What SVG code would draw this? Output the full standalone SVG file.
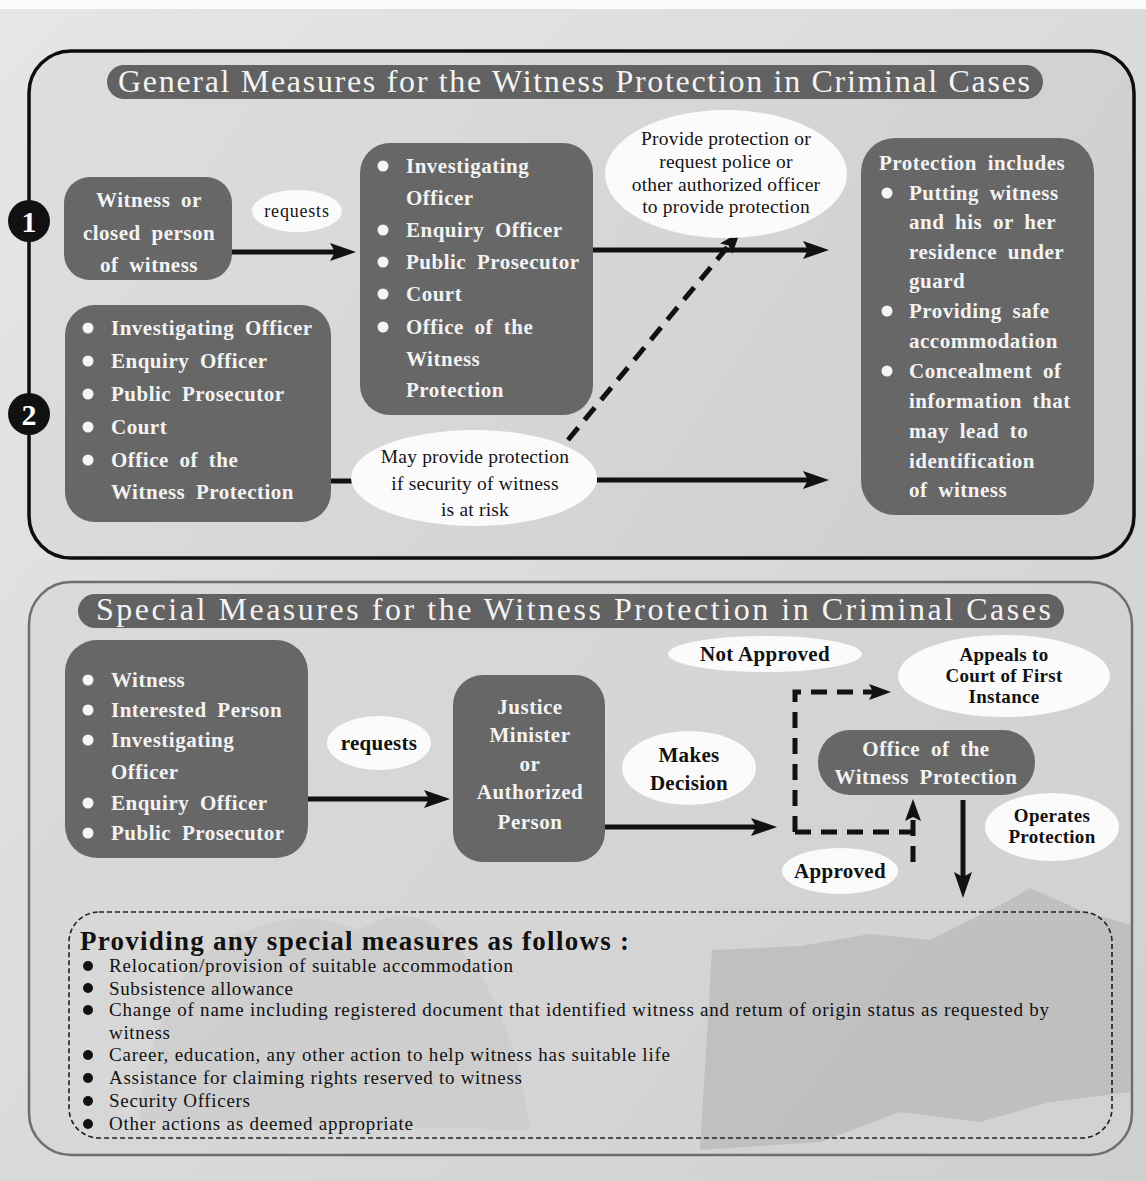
<svg xmlns="http://www.w3.org/2000/svg" width="1146" height="1181" viewBox="0 0 1146 1181">
<defs>
<linearGradient id="bg" x1="0" y1="0" x2="1" y2="1">
<stop offset="0" stop-color="#e6e6e6"/>
<stop offset="1" stop-color="#cfcfcf"/>
</linearGradient>
<linearGradient id="p1" x1="0" y1="0" x2="1" y2="0.3">
<stop offset="0" stop-color="#dedede"/>
<stop offset="0.6" stop-color="#d6d6d6"/>
<stop offset="1" stop-color="#d0d0d0"/>
</linearGradient>
<linearGradient id="p2" x1="0" y1="0" x2="1" y2="0.4">
<stop offset="0" stop-color="#dadada"/>
<stop offset="1" stop-color="#d2d2d2"/>
</linearGradient>
<marker id="ah" viewBox="0 0 26 18" refX="8" refY="9" markerWidth="26" markerHeight="18" markerUnits="userSpaceOnUse" orient="auto">
<path d="M0,0 L26,9 L0,18 L5,9 Z" fill="#111"/>
</marker>
<marker id="ahs" viewBox="0 0 22 16" refX="6" refY="8" markerWidth="22" markerHeight="16" markerUnits="userSpaceOnUse" orient="auto">
<path d="M0,0 L22,8 L0,16 L4,8 Z" fill="#111"/>
</marker>
</defs>
<style>
.node{fill:#676767}
.pill{fill:#626262}
.ell{fill:#fbfbfb}
.nt{font-family:"Liberation Serif","Times New Roman",serif;font-weight:bold;font-size:21px;fill:#f3f3f3;letter-spacing:0.5px;word-spacing:5px}
.ntc{text-anchor:middle}
.title{font-family:"Liberation Serif","Times New Roman",serif;font-size:32px;fill:#f4f4f4}
.et{font-family:"Liberation Serif","Times New Roman",serif;font-size:19.5px;fill:#151515;text-anchor:middle;letter-spacing:0.2px}
.eb{font-family:"Liberation Serif","Times New Roman",serif;font-weight:bold;font-size:21px;fill:#111;text-anchor:middle;letter-spacing:0.3px}
.ebs{font-size:19px}
.lt{font-family:"Liberation Serif","Times New Roman",serif;font-size:19px;fill:#111}
.wb{fill:#f5f5f5}
.bb{fill:#111}
.solid{stroke:#111;stroke-width:5;fill:none}
.dash{stroke:#111;stroke-width:5;fill:none;stroke-dasharray:16 10}
.num{font-family:"Liberation Serif","Times New Roman",serif;font-weight:bold;font-size:30px;fill:#fff;text-anchor:middle}
</style>

<rect x="0" y="0" width="1146" height="1181" fill="url(#bg)"/>
<rect x="0" y="0" width="1146" height="9" fill="#fbfbfb"/>

<!-- Panels -->
<g id="panel-general">
<rect x="29" y="51" width="1105" height="507" rx="42" fill="url(#p1)" stroke="#0e0e0e" stroke-width="3.5"/>
</g>
<g id="panel-special">
<rect x="29" y="582" width="1103" height="573" rx="42" fill="url(#p2)" stroke="#6e6e6e" stroke-width="2.5"/>
<path d="M700,1150 L712,950 L800,946 L870,934 L930,940 L1010,900 L1030,888 L1080,910 L1131,925 L1131,1092 L1050,1102 L980,1122 L900,1112 L820,1142 Z" fill="#a9a9a9" opacity="0.45"/>
<path d="M140,1120 C150,1000 200,940 250,930 C300,910 330,920 360,930 C400,905 430,915 460,950 C500,990 520,1060 530,1130 Z" fill="#c4c4c4" opacity="0.4"/>
</g>

<!-- Titles -->
<g id="title-general">
<rect class="pill" x="107" y="65" width="936" height="34" rx="17"/>
<text class="title" x="118" y="92" textLength="912" lengthAdjust="spacing">General Measures for the Witness Protection in Criminal Cases</text>
</g>
<g id="title-special">
<rect class="pill" x="78" y="594" width="986" height="34" rx="17"/>
<text class="title" x="96" y="620" textLength="955" lengthAdjust="spacing">Special Measures for the Witness Protection in Criminal Cases</text>
</g>

<!-- Step markers -->
<g id="marker-1">
<circle cx="29" cy="221" r="21" fill="#111"/>
<text class="num" x="29" y="232">1</text>
</g>
<g id="marker-2">
<circle cx="29" cy="414" r="21" fill="#111"/>
<text class="num" x="29" y="425">2</text>
</g>

<!-- Connectors -->
<g id="connectors">
<line class="solid" x1="232" y1="252" x2="338" y2="252" marker-end="url(#ah)"/>
<line class="solid" x1="593" y1="250" x2="811" y2="250" marker-end="url(#ah)"/>
<line class="solid" x1="331" y1="481" x2="352" y2="481"/>
<line class="solid" x1="597" y1="480" x2="811" y2="480" marker-end="url(#ah)"/>
<line class="dash" x1="568" y1="440" x2="730" y2="244" marker-end="url(#ahs)"/>
<line class="solid" x1="308" y1="799" x2="432" y2="799" marker-end="url(#ah)"/>
<line class="solid" x1="605" y1="827" x2="759" y2="827" marker-end="url(#ah)"/>
<path class="dash" d="M795,832 V692 H875" marker-end="url(#ahs)"/>
<path class="dash" d="M795,832 H913"/>
<path class="dash" d="M913,862 V815" marker-end="url(#ahs)"/>
<line class="solid" x1="963" y1="800" x2="963" y2="880" marker-end="url(#ah)"/>
</g>

<!-- General measures nodes -->
<g id="node-witness">
<rect class="node" x="64" y="177" width="168" height="103" rx="26"/>
<text class="nt ntc" x="149" y="207">Witness or</text>
<text class="nt ntc" x="149" y="240">closed person</text>
<text class="nt ntc" x="149" y="272">of witness</text>
</g>
<g id="label-requests-1">
<ellipse class="ell" cx="297" cy="211" rx="45" ry="21"/>
<text class="et" x="297" y="217" style="font-size:18px;letter-spacing:0.8px">requests</text>
</g>
<g id="node-officers-1">
<rect class="node" x="360" y="143" width="233" height="272" rx="30"/>
<circle class="wb" cx="383" cy="166" r="5.5"/>
<circle class="wb" cx="383" cy="230" r="5.5"/>
<circle class="wb" cx="383" cy="262" r="5.5"/>
<circle class="wb" cx="383" cy="294" r="5.5"/>
<circle class="wb" cx="383" cy="327" r="5.5"/>
<text class="nt" x="406" y="173">Investigating</text>
<text class="nt" x="406" y="205">Officer</text>
<text class="nt" x="406" y="237">Enquiry Officer</text>
<text class="nt" x="406" y="269">Public Prosecutor</text>
<text class="nt" x="406" y="301">Court</text>
<text class="nt" x="406" y="334">Office of the</text>
<text class="nt" x="406" y="366">Witness</text>
<text class="nt" x="406" y="397">Protection</text>
</g>
<g id="node-officers-2">
<rect class="node" x="65" y="305" width="266" height="217" rx="30"/>
<circle class="wb" cx="88" cy="328" r="5.5"/>
<circle class="wb" cx="88" cy="361" r="5.5"/>
<circle class="wb" cx="88" cy="394" r="5.5"/>
<circle class="wb" cx="88" cy="427" r="5.5"/>
<circle class="wb" cx="88" cy="460" r="5.5"/>
<text class="nt" x="111" y="335">Investigating Officer</text>
<text class="nt" x="111" y="368">Enquiry Officer</text>
<text class="nt" x="111" y="401">Public Prosecutor</text>
<text class="nt" x="111" y="434">Court</text>
<text class="nt" x="111" y="467">Office of the</text>
<text class="nt" x="111" y="499">Witness Protection</text>
</g>
<g id="label-provide">
<ellipse class="ell" cx="726" cy="174" rx="121" ry="64"/>
<text class="et" x="726" y="145">Provide protection or</text>
<text class="et" x="726" y="168">request police or</text>
<text class="et" x="726" y="191">other authorized officer</text>
<text class="et" x="726" y="213">to provide protection</text>
</g>
<g id="label-may-provide">
<ellipse class="ell" cx="474" cy="478" rx="123" ry="48"/>
<text class="et" x="475" y="463">May provide protection</text>
<text class="et" x="475" y="490">if security of witness</text>
<text class="et" x="475" y="516">is at risk</text>
</g>
<g id="node-protection-includes">
<rect class="node" x="861" y="138" width="233" height="377" rx="34"/>
<text class="nt" x="879" y="170">Protection includes</text>
<circle class="wb" cx="887" cy="193" r="5.5"/>
<circle class="wb" cx="887" cy="311" r="5.5"/>
<circle class="wb" cx="887" cy="371" r="5.5"/>
<text class="nt" x="909" y="200">Putting witness</text>
<text class="nt" x="909" y="229">and his or her</text>
<text class="nt" x="909" y="259">residence under</text>
<text class="nt" x="909" y="288">guard</text>
<text class="nt" x="909" y="318">Providing safe</text>
<text class="nt" x="909" y="348">accommodation</text>
<text class="nt" x="909" y="378">Concealment of</text>
<text class="nt" x="909" y="408">information that</text>
<text class="nt" x="909" y="438">may lead to</text>
<text class="nt" x="909" y="468">identification</text>
<text class="nt" x="909" y="497">of witness</text>
</g>

<!-- Special measures nodes -->
<g id="node-requesters">
<rect class="node" x="65" y="640" width="243" height="218" rx="32"/>
<circle class="wb" cx="88" cy="680" r="5.5"/>
<circle class="wb" cx="88" cy="710" r="5.5"/>
<circle class="wb" cx="88" cy="740" r="5.5"/>
<circle class="wb" cx="88" cy="803" r="5.5"/>
<circle class="wb" cx="88" cy="833" r="5.5"/>
<text class="nt" x="111" y="687">Witness</text>
<text class="nt" x="111" y="717">Interested Person</text>
<text class="nt" x="111" y="747">Investigating</text>
<text class="nt" x="111" y="779">Officer</text>
<text class="nt" x="111" y="810">Enquiry Officer</text>
<text class="nt" x="111" y="840">Public Prosecutor</text>
</g>
<g id="label-requests-2">
<ellipse class="ell" cx="379" cy="743" rx="52" ry="27"/>
<text class="eb" x="379" y="750">requests</text>
</g>
<g id="node-justice">
<rect class="node" x="453" y="675" width="152" height="187" rx="30"/>
<text class="nt ntc" x="530" y="714">Justice</text>
<text class="nt ntc" x="530" y="742">Minister</text>
<text class="nt ntc" x="530" y="771">or</text>
<text class="nt ntc" x="530" y="799">Authorized</text>
<text class="nt ntc" x="530" y="829">Person</text>
</g>
<g id="label-makes-decision">
<ellipse class="ell" cx="689" cy="768" rx="67" ry="37"/>
<text class="eb" x="689" y="762">Makes</text>
<text class="eb" x="689" y="790">Decision</text>
</g>
<g id="label-not-approved">
<ellipse class="ell" cx="765" cy="654" rx="97" ry="18"/>
<text class="eb" x="765" y="661">Not Approved</text>
</g>
<g id="node-appeals">
<ellipse class="ell" cx="1004" cy="676" rx="106" ry="41"/>
<text class="eb ebs" x="1004" y="661">Appeals to</text>
<text class="eb ebs" x="1004" y="682">Court of First</text>
<text class="eb ebs" x="1004" y="703">Instance</text>
</g>
<g id="node-office">
<rect class="node" x="818" y="730" width="217" height="65" rx="32"/>
<text class="nt ntc" x="926" y="756">Office of the</text>
<text class="nt ntc" x="926" y="784">Witness Protection</text>
</g>
<g id="label-approved">
<ellipse class="ell" cx="840" cy="871" rx="58" ry="23"/>
<text class="eb" x="840" y="878">Approved</text>
</g>
<g id="label-operates">
<ellipse class="ell" cx="1052" cy="827" rx="67" ry="34"/>
<text class="eb ebs" x="1052" y="822">Operates</text>
<text class="eb ebs" x="1052" y="843">Protection</text>
</g>

<!-- Special measures list -->
<g id="node-measures-list">
<rect x="69" y="912" width="1043" height="226" rx="30" fill="none" stroke="#222" stroke-width="1.6" stroke-dasharray="5 3"/>
<text x="80" y="950" textLength="549" lengthAdjust="spacing" style="font-family:'Liberation Serif','Times New Roman',serif;font-weight:bold;font-size:27px;fill:#111">Providing any special measures as follows :</text>
<circle class="bb" cx="88" cy="966" r="5"/>
<circle class="bb" cx="88" cy="988" r="5"/>
<circle class="bb" cx="88" cy="1010" r="5"/>
<circle class="bb" cx="88" cy="1055" r="5"/>
<circle class="bb" cx="88" cy="1078" r="5"/>
<circle class="bb" cx="88" cy="1101" r="5"/>
<circle class="bb" cx="88" cy="1124" r="5"/>
<text class="lt" x="109" y="972" textLength="404" lengthAdjust="spacing">Relocation/provision of suitable accommodation</text>
<text class="lt" x="109" y="995" textLength="184" lengthAdjust="spacing">Subsistence allowance</text>
<text class="lt" x="109" y="1016" textLength="940" lengthAdjust="spacing">Change of name including registered document that identified witness and retum of origin status as requested by</text>
<text class="lt" x="109" y="1039" textLength="61" lengthAdjust="spacing">witness</text>
<text class="lt" x="109" y="1061" textLength="561" lengthAdjust="spacing">Career, education, any other action to help witness has suitable life</text>
<text class="lt" x="109" y="1084" textLength="413" lengthAdjust="spacing">Assistance for claiming rights reserved to witness</text>
<text class="lt" x="109" y="1107" textLength="141" lengthAdjust="spacing">Security Officers</text>
<text class="lt" x="109" y="1130" textLength="304" lengthAdjust="spacing">Other actions as deemed appropriate</text>
</g>
</svg>
